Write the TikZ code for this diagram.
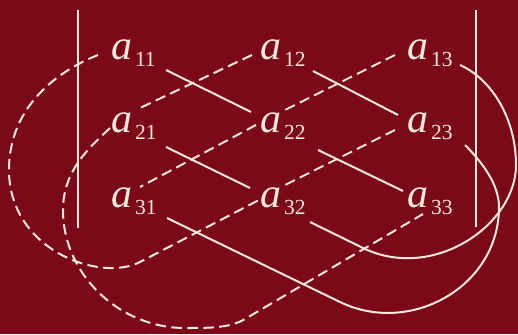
\documentclass[tikz,border=0pt]{standalone}
\usepackage{fontspec}
\setmainfont{Liberation Serif}
\usetikzlibrary{calc}
\definecolor{bg}{RGB}{122,8,22}
\definecolor{fg}{RGB}{250,232,222}
\newcommand{\matel}[1]{a\kern2.8pt\raisebox{-7pt}{\fontsize{21.5}{21.5}\selectfont\upshape #1}}
\begin{document}
\begin{tikzpicture}[x=1pt,y=-1pt,
  ent/.style={anchor=base west, inner sep=0pt, text=fg, font=\fontsize{42}{42}\selectfont\itshape},
  solidln/.style={draw=fg, line width=2pt},
  dashln/.style={draw=fg, line width=2pt, dash pattern=on 10.5pt off 5.5pt},
  barln/.style={draw=fg, line width=2pt}]
\fill[bg] (0,0) rectangle (518,334);
\useasboundingbox (0,0) rectangle (518,334);

% entries
\node[ent] (a11) at (111,60) {\matel{11}};
\node[ent] (a12) at (260,60) {\matel{12}};
\node[ent] (a13) at (407,60) {\matel{13}};
\node[ent] (a21) at (111,132) {\matel{21}};
\node[ent] (a22) at (260,132) {\matel{22}};
\node[ent] (a23) at (407,132) {\matel{23}};
\node[ent] (a31) at (111,207) {\matel{31}};
\node[ent] (a32) at (260,207) {\matel{32}};
\node[ent] (a33) at (407,207) {\matel{33}};

% determinant bars
\coordinate (lt) at (78,10);
\coordinate (lb) at (78,228);
\coordinate (rt) at (476,10);
\coordinate (rb) at (476,227);
\draw[barln] (lt) -- (lb);
\draw[barln] (rt) -- (rb);

% solid (positive terms)
\draw[solidln] ($(a11.base west)+(55,10)$) -- ($(a22.base west)+(-9,-20)$);
\draw[solidln] ($(a22.base west)+(58,18)$) -- ($(a33.base west)+(-4,-16)$);
\draw[solidln] ($(a12.base west)+(53,11)$) -- ($(a23.base west)+(-9,-17)$);
\draw[solidln] ($(a21.base west)+(55,15)$) -- ($(a32.base west)+(-10,-19)$);
\draw[solidln] ($(a13.base west)+(53,5)$) .. controls (493,80) and (516,120) .. (516,165)
   .. controls (516,225) and (433,282) .. (363,248) -- ($(a32.base west)+(50,15)$);
\draw[solidln] ($(a23.base west)+(58,13)$) .. controls (483,163) and (499,185) .. (499,207)
   .. controls (499,287) and (410,336) .. (340,302) -- ($(a31.base west)+(56,11)$);

% dashed (negative terms)
\draw[dashln] ($(a12.base west)+(-8,-5)$) -- ($(a21.base west)+(29,-24)$);
\draw[dashln] ($(a13.base west)+(-12,-5)$) -- ($(a22.base west)+(25,-22)$);
\draw[dashln] ($(a22.base west)+(-4,-7)$) -- ($(a31.base west)+(29,-20)$);
\draw[dashln] ($(a23.base west)+(-12,-2)$) -- ($(a32.base west)+(21,-20)$);
\draw[dashln] ($(a11.base west)+(-13,-5)$) .. controls (60,70) and (9,105) .. (9,170)
   .. controls (9,250) and (100,282.7) .. (140,262) -- ($(a32.base west)+(-1,-7)$);
\draw[dashln] ($(a21.base west)+(-1,-4)$) .. controls (90,147) and (63,170) .. (63,210)
   .. controls (63,275) and (120,328) .. (185,328) .. controls (210,328) and (230,328) .. (245,319)
   -- ($(a33.base west)+(16,7)$);
\end{tikzpicture}
\end{document}
